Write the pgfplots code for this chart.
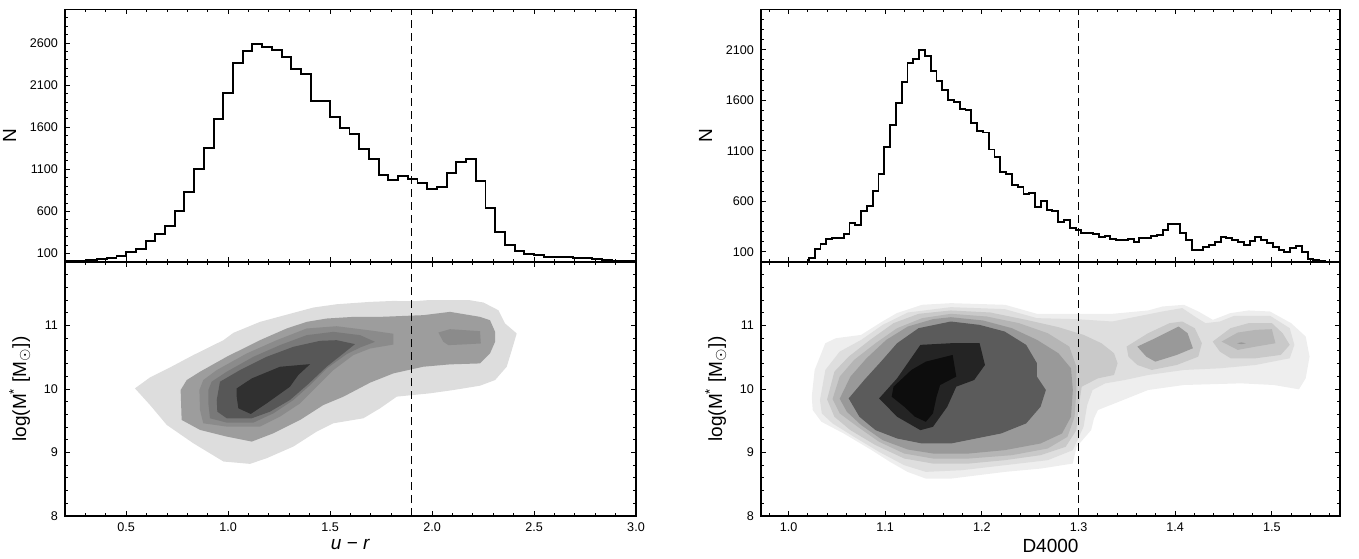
\documentclass[border=0pt]{standalone}
\usepackage{pgfplots}
\pgfplotsset{compat=1.18}
\usepackage{fontspec}
\setmainfont{Liberation Sans}
% left contour levels
\definecolor{la}{gray}{0.865}
\definecolor{lb}{gray}{0.615}
\definecolor{lc}{gray}{0.545}
\definecolor{ld}{gray}{0.475}
\definecolor{le}{gray}{0.34}
\definecolor{lf}{gray}{0.19}
% right contour levels
\definecolor{ra}{gray}{0.935}
\definecolor{rb}{gray}{0.87}
\definecolor{rc}{gray}{0.79}
\definecolor{rd}{gray}{0.71}
\definecolor{re}{gray}{0.60}
\definecolor{rf}{gray}{0.355}
\definecolor{rg}{gray}{0.14}
\definecolor{rh}{gray}{0.05}
\pgfplotsset{
  panel/.style={
    scale only axis, anchor=south west,
    axis line style={line width=0.6pt},
    tick align=inside,
    major tick length=2.4pt, minor tick length=1.3pt,
    tick style={black, line width=0.45pt},
    ticklabel style={font=\fontsize{6.3}{7.5}\selectfont},
    label style={font=\fontsize{9.5}{11}\selectfont},
    xlabel style={yshift=3pt},
    axis on top,
    /pgf/number format/assume math mode=true,
  },
  hist/.style={const plot, black, line width=0.95pt, line join=miter},
  vdash/.style={black, line width=0.5pt, dash pattern=on 4pt off 2.5pt},
}
\begin{document}
\begin{tikzpicture}
\useasboundingbox (0,0) rectangle (679.5pt,279pt);

% ---------------- left top: u-r histogram ----------------
\begin{axis}[panel, at={(32.5pt,148pt)}, width=285.5pt, height=126.35pt,
  xmin=0.2, xmax=3.0, ymin=0, ymax=3000,
  xtick={0.5,1.0,1.5,2.0,2.5,3.0}, xticklabels={},
  minor xtick={0.2,0.3,...,3.0},
  ytick={100,600,1100,1600,2100,2600},
  yticklabels={100,600,1100,1600,2100,2600},
  minor ytick={0,100,...,3000},
  ylabel={N}]
\addplot[hist] coordinates {
(0.2,12) (0.3095,25) (0.3571,35) (0.4048,51) (0.4524,71) (0.5,123) (0.5476,154)
(0.5952,245) (0.6429,336) (0.6905,423) (0.7381,609) (0.7857,831) (0.8333,1100)
(0.8810,1353) (0.9286,1693) (0.9762,2002) (1.0238,2358) (1.0714,2504) (1.1190,2583)
(1.1667,2552) (1.2143,2520) (1.2619,2437) (1.3095,2287) (1.3571,2235) (1.4048,1915)
(1.4524,1915) (1.5,1721) (1.5476,1586) (1.5952,1515) (1.6429,1341) (1.6905,1226)
(1.7381,1029) (1.7857,973) (1.8333,1025) (1.8810,981) (1.9286,938) (1.9762,862)
(2.0238,890) (2.0714,1056) (2.1190,1191) (2.1667,1218) (2.2143,961) (2.2619,645)
(2.3095,352) (2.3571,202) (2.4048,134) (2.4524,95) (2.5,79) (2.5476,55) (2.5952,56)
(2.6429,63) (2.6905,47) (2.7381,44) (2.7857,32) (2.8333,20) (2.8810,16) (2.9286,16)
(2.9762,12) (3.0,12)};
\addplot[vdash] coordinates {(1.9,0) (1.9,3000)};
\end{axis}

% ---------------- left bottom: u-r vs mass ----------------
\begin{axis}[panel, at={(32.5pt,21pt)}, width=285.5pt, height=127pt,
  xmin=0.2, xmax=3.0, ymin=8, ymax=12,
  xtick={0.5,1.0,1.5,2.0,2.5,3.0}, xticklabels={0.5,1.0,1.5,2.0,2.5,3.0},
  minor xtick={0.2,0.3,...,3.0},
  ytick={8,9,10,11}, yticklabels={8,9,10,11},
  minor ytick={8,8.2,...,12},
  xlabel={\textit{u} − \textit{r}},
  ylabel={log(M\textsuperscript{*} [M$_\odot$])}]
\addplot[fill=la, draw=none] coordinates {
(0.543,10.010) (0.617,10.183) (0.715,10.340) (0.829,10.534) (0.977,10.769) (1.026,10.885)
(1.156,11.057) (1.320,11.199) (1.418,11.283) (1.532,11.335) (1.696,11.372) (1.810,11.387)
(1.908,11.382) (1.974,11.398) (2.186,11.398) (2.252,11.362) (2.325,11.241) (2.358,11.032)
(2.415,10.875) (2.391,10.613) (2.366,10.351) (2.309,10.141) (2.235,10.052) (2.105,9.984)
(1.990,9.932) (1.827,9.880) (1.745,9.696) (1.663,9.539) (1.516,9.460) (1.434,9.329)
(1.320,9.094) (1.189,8.910) (1.107,8.821) (0.977,8.858) (0.829,9.146) (0.699,9.434)
(0.617,9.748)} -- cycle;
\addplot[fill=lb, draw=none] coordinates {
(0.767,9.984) (0.797,10.141) (0.862,10.272) (0.993,10.508) (1.156,10.769) (1.287,10.953)
(1.385,11.057) (1.483,11.110) (1.614,11.136) (1.745,11.136) (1.957,11.163) (2.088,11.215)
(2.235,11.136) (2.284,11.084) (2.309,10.901) (2.309,10.744) (2.284,10.560) (2.235,10.403)
(2.088,10.388) (1.957,10.351) (1.810,10.246) (1.696,10.100) (1.565,9.879) (1.467,9.748)
(1.353,9.513) (1.222,9.303) (1.116,9.172) (0.993,9.251) (0.862,9.356) (0.772,9.513)} -- cycle;
\addplot[fill=lc, draw=none] coordinates {
(0.859,9.984) (0.878,10.141) (0.944,10.298) (1.091,10.560) (1.238,10.769) (1.385,10.953)
(1.532,10.989) (1.712,10.916) (1.810,10.870) (1.810,10.700) (1.696,10.638) (1.614,10.534)
(1.516,10.298) (1.418,9.984) (1.353,9.774) (1.254,9.565) (1.156,9.408) (0.993,9.408)
(0.878,9.460) (0.862,9.670)} -- cycle;
\addplot[fill=lc, draw=none] coordinates {
(2.031,10.890) (2.088,10.942) (2.235,10.911) (2.239,10.717) (2.154,10.702) (2.080,10.691)
(2.055,10.744)} -- cycle;
\addplot[fill=ld, draw=none] coordinates {
(0.903,9.984) (0.919,10.115) (0.993,10.272) (1.124,10.508) (1.254,10.691) (1.385,10.848)
(1.516,10.900) (1.647,10.848) (1.720,10.743) (1.647,10.654) (1.581,10.549) (1.483,10.324)
(1.402,10.062) (1.320,9.827) (1.222,9.617) (1.124,9.471) (0.993,9.471) (0.911,9.539)
(0.903,9.774)} -- cycle;
\addplot[fill=le, draw=none] coordinates {
(0.944,9.827) (0.960,10.115) (1.058,10.298) (1.189,10.508) (1.320,10.665) (1.451,10.759)
(1.532,10.769) (1.622,10.707) (1.565,10.560) (1.483,10.351) (1.393,10.078) (1.303,9.827)
(1.205,9.643) (1.116,9.539) (0.993,9.539) (0.947,9.643)} -- cycle;
\addplot[fill=lf, draw=none] coordinates {
(1.042,10.010) (1.116,10.167) (1.254,10.350) (1.402,10.392) (1.344,10.220) (1.303,10.036)
(1.189,9.774) (1.111,9.607) (1.050,9.696) (1.042,9.879)} -- cycle;
\addplot[vdash] coordinates {(1.9,8) (1.9,12)};
\end{axis}

% ---------------- right top: D4000 histogram ----------------
\begin{axis}[panel, at={(380.5pt,148pt)}, width=289.5pt, height=126.35pt,
  xmin=0.9715, xmax=1.5705, ymin=0, ymax=2500,
  xtick={1.0,1.1,1.2,1.3,1.4,1.5}, xticklabels={},
  minor xtick={0.98,1.00,...,1.57},
  ytick={100,600,1100,1600,2100},
  yticklabels={100,600,1100,1600,2100},
  minor ytick={0,100,...,2500},
  ylabel={N}]
\addplot[hist] coordinates {
(1.015,0) (1.021,41) (1.027,133) (1.033,179) (1.039,228) (1.045,235) (1.051,241) (1.057,278)
(1.063,383) (1.069,363) (1.075,508) (1.081,554) (1.087,702) (1.093,873) (1.099,1139)
(1.105,1353) (1.111,1577) (1.117,1777) (1.123,1971) (1.129,2008) (1.135,2093) (1.141,2037)
(1.147,1889) (1.153,1791) (1.159,1702) (1.165,1606) (1.171,1583) (1.177,1511) (1.183,1501)
(1.189,1373) (1.195,1297) (1.201,1281) (1.207,1113) (1.213,1041) (1.219,886) (1.225,870)
(1.231,761) (1.237,738) (1.243,672) (1.249,682) (1.255,541) (1.261,600) (1.267,518)
(1.273,505) (1.279,396) (1.285,419) (1.291,337) (1.297,320) (1.303,287) (1.309,284)
(1.315,274) (1.321,248) (1.327,255) (1.333,228) (1.339,215) (1.345,222) (1.351,228)
(1.357,202) (1.363,238) (1.369,241) (1.375,255) (1.381,271) (1.387,320) (1.393,373)
(1.399,373) (1.405,287) (1.411,222) (1.417,123) (1.423,116) (1.429,149) (1.435,166)
(1.441,195) (1.447,248) (1.453,238) (1.459,222) (1.465,195) (1.471,166) (1.477,209)
(1.483,245) (1.489,222) (1.495,189) (1.501,149) (1.507,123) (1.513,100) (1.519,139)
(1.525,159) (1.531,97) (1.537,34) (1.543,18) (1.549,8) (1.555,5) (1.561,5)};
\addplot[vdash] coordinates {(1.3,0) (1.3,2500)};
\end{axis}

% ---------------- right bottom: D4000 vs mass ----------------
\begin{axis}[panel, at={(380.5pt,21pt)}, width=289.5pt, height=127pt,
  xmin=0.9715, xmax=1.5705, ymin=8, ymax=12,
  xtick={1.0,1.1,1.2,1.3,1.4,1.5}, xticklabels={1.0,1.1,1.2,1.3,1.4,1.5},
  minor xtick={0.98,1.00,...,1.57},
  ytick={8,9,10,11}, yticklabels={8,9,10,11},
  minor ytick={8,8.2,...,12},
  xlabel={D4000},
  ylabel={log(M\textsuperscript{*} [M$_\odot$])}]
\addplot[fill=ra, draw=none] coordinates {
(1.024,9.879) (1.027,10.300) (1.038,10.721) (1.049,10.800) (1.075,10.852) (1.097,11.063)
(1.112,11.195) (1.138,11.326) (1.168,11.352) (1.224,11.326) (1.257,11.184) (1.298,11.184)
(1.335,11.184) (1.372,11.237) (1.387,11.300) (1.409,11.326) (1.424,11.221) (1.439,11.089)
(1.457,11.195) (1.476,11.237) (1.498,11.221) (1.520,11.037) (1.535,10.826) (1.539,10.510)
(1.535,10.168) (1.528,9.995) (1.502,10.063) (1.468,10.089) (1.409,10.063) (1.372,9.984)
(1.346,9.826) (1.320,9.668) (1.316,9.537) (1.313,9.352) (1.298,9.089) (1.294,8.826)
(1.261,8.747) (1.224,8.695) (1.168,8.589) (1.142,8.589) (1.123,8.695) (1.105,8.852)
(1.086,9.037) (1.057,9.300) (1.034,9.484) (1.025,9.668)} -- cycle;
\addplot[fill=rb, draw=none] coordinates {
(1.0325,9.826) (1.0381,10.300) (1.0529,10.589) (1.0752,10.774) (1.0974,11.010) (1.1234,11.205)
(1.1679,11.289) (1.2236,11.258) (1.2570,11.116) (1.2978,11.100) (1.3349,11.063) (1.3571,11.131)
(1.3868,11.221) (1.4072,11.274) (1.4202,11.142) (1.4313,11.037) (1.4462,11.063) (1.4610,11.153)
(1.4981,11.153) (1.5185,10.958) (1.5233,10.695) (1.5185,10.484) (1.4833,10.379) (1.4462,10.326)
(1.4091,10.300) (1.3720,10.221) (1.3479,10.142) (1.3275,10.089) (1.3145,9.984) (1.3089,9.747)
(1.3052,9.405) (1.2941,9.037) (1.2681,8.879) (1.2236,8.800) (1.1791,8.721) (1.1420,8.695)
(1.1197,8.800) (1.0937,9.010) (1.0678,9.247) (1.0455,9.458) (1.0344,9.616)} -- cycle;
\addplot[fill=rc, draw=none] coordinates {
(1.0399,9.837) (1.0474,10.273) (1.0622,10.510) (1.0844,10.774) (1.1086,11.037) (1.1345,11.184)
(1.1679,11.237) (1.2087,11.205) (1.2458,11.089) (1.2792,10.974) (1.3052,10.852) (1.3237,10.721)
(1.3367,10.563) (1.3404,10.405) (1.3367,10.221) (1.3200,10.168) (1.3033,10.037) (1.2996,9.668)
(1.2978,9.352) (1.2866,9.089) (1.2607,8.958) (1.2236,8.879) (1.1865,8.826) (1.1494,8.826)
(1.1197,8.905) (1.0900,9.116) (1.0640,9.352) (1.0474,9.563)} -- cycle;
\addplot[fill=rc, draw=none] coordinates {
(1.3497,10.668) (1.3720,10.879) (1.3942,11.037) (1.4072,11.063) (1.4202,10.958) (1.4276,10.721)
(1.4239,10.510) (1.4017,10.379) (1.3757,10.300) (1.3608,10.379) (1.3516,10.510)} -- cycle;
\addplot[fill=rc, draw=none] coordinates {
(1.4388,10.747) (1.4573,10.958) (1.4759,11.037) (1.5000,11.037) (1.5111,10.879) (1.5185,10.695)
(1.5092,10.537) (1.4833,10.484) (1.4573,10.484) (1.4462,10.589)} -- cycle;
\addplot[fill=rd, draw=none] coordinates {
(1.0455,9.842) (1.0529,10.195) (1.0678,10.458) (1.0900,10.721) (1.1123,10.958) (1.1382,11.116)
(1.1679,11.184) (1.2050,11.142) (1.2384,11.037) (1.2681,10.879) (1.2904,10.668) (1.2978,10.352)
(1.2978,9.984) (1.2959,9.563) (1.2885,9.247) (1.2681,9.063) (1.2310,8.958) (1.1865,8.905)
(1.1494,8.905) (1.1197,8.984) (1.0937,9.168) (1.0715,9.405) (1.0529,9.616)} -- cycle;
\addplot[fill=rd, draw=none] coordinates {
(1.4480,10.747) (1.4647,10.889) (1.4833,10.931) (1.5000,10.942) (1.5037,10.721) (1.4833,10.668)
(1.4647,10.616)} -- cycle;
\addplot[fill=re, draw=none] coordinates {
(1.0529,9.847) (1.0640,10.195) (1.0807,10.484) (1.1011,10.774) (1.1234,10.984) (1.1494,11.100)
(1.1679,11.131) (1.2013,11.079) (1.2310,10.958) (1.2570,10.774) (1.2792,10.563) (1.2922,10.326)
(1.2941,9.984) (1.2922,9.563) (1.2829,9.300) (1.2607,9.142) (1.2236,9.037) (1.1865,8.984)
(1.1494,8.984) (1.1234,9.047) (1.0974,9.195) (1.0752,9.431) (1.0603,9.642)} -- cycle;
\addplot[fill=re, draw=none] coordinates {
(1.3608,10.668) (1.3794,10.800) (1.4035,10.984) (1.4128,10.879) (1.4183,10.642) (1.4017,10.537)
(1.3794,10.431) (1.3701,10.510)} -- cycle;
\addplot[fill=re, draw=none] coordinates {
(1.4640,10.720) (1.4684,10.735) (1.4730,10.720) (1.4684,10.705)} -- cycle;
\addplot[fill=rf, draw=none] coordinates {
(1.0622,9.852) (1.0789,10.152) (1.0956,10.431) (1.1123,10.721) (1.1345,10.958) (1.1679,11.063)
(1.1976,11.010) (1.2236,10.905) (1.2458,10.695) (1.2570,10.405) (1.2570,10.195) (1.2662,9.984)
(1.2607,9.721) (1.2458,9.458) (1.2199,9.300) (1.1939,9.221) (1.1679,9.142) (1.1382,9.142)
(1.1123,9.221) (1.0900,9.352) (1.0733,9.563)} -- cycle;
\addplot[fill=rg, draw=none] coordinates {
(1.0937,9.852) (1.1123,10.168) (1.1364,10.695) (1.1679,10.721) (1.1976,10.721) (1.2032,10.379)
(1.1920,10.142) (1.1735,10.037) (1.1642,9.721) (1.1494,9.405) (1.1364,9.352) (1.1123,9.563)} -- cycle;
\addplot[fill=rh, draw=none] coordinates {
(1.1067,9.879) (1.1086,10.037) (1.1271,10.300) (1.1420,10.431) (1.1698,10.537) (1.1735,10.195)
(1.1568,10.063) (1.1531,9.879) (1.1494,9.616) (1.1420,9.484) (1.1308,9.563) (1.1197,9.721)} -- cycle;
\addplot[vdash] coordinates {(1.3,8) (1.3,12)};
\end{axis}
\end{tikzpicture}
\end{document}
